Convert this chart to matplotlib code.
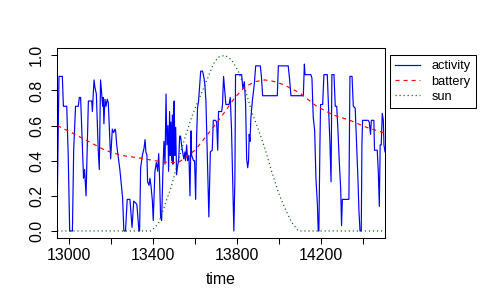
import numpy as np
import matplotlib
matplotlib.use("Agg")
import matplotlib.pyplot as plt

plt.rcParams['font.family'] = ['Liberation Sans', 'DejaVu Sans']
plt.rcParams['lines.scale_dashes'] = False

# activity series
act_t = [12943, 12951, 12967, 12972, 12988, 12995, 13002, 13015, 13021, 13030,
         13043, 13048, 13054, 13062, 13068, 13073, 13080, 13091, 13107, 13110,
         13118, 13122, 13129, 13138, 13143, 13149, 13154, 13159, 13162, 13165,
         13170, 13175, 13181, 13186, 13197, 13205, 13211, 13218, 13221, 13226,
         13241, 13254, 13260, 13268, 13276, 13289, 13299, 13307, 13316, 13322,
         13332, 13335, 13340, 13348, 13356, 13361, 13365, 13370, 13373, 13380,
         13384, 13389, 13396, 13400, 13408, 13415, 13421, 13426, 13430, 13435,
         13440, 13446, 13451, 13456, 13461, 13465, 13470, 13473, 13478, 13481,
         13484, 13488, 13491, 13494, 13497, 13500, 13503, 13507, 13511, 13516,
         13521, 13526, 13530, 13535, 13540, 13546, 13551, 13554, 13559, 13564,
         13570, 13575, 13580, 13583, 13592, 13597, 13602, 13607, 13611, 13616,
         13619, 13626, 13635, 13642, 13646, 13651, 13654, 13659, 13665, 13672,
         13681, 13686, 13697, 13702, 13707, 13711, 13726, 13730, 13735, 13742,
         13746, 13761, 13767, 13773, 13780, 13784, 13789, 13792, 13821, 13827,
         13834, 13840, 13845, 13850, 13854, 13857, 13861, 13865, 13872, 13881,
         13888, 13910, 13916, 13921, 13991, 13996, 14043, 14049, 14056, 14115,
         14120, 14123, 14151, 14156, 14162, 14169, 14175, 14182, 14186, 14189,
         14194, 14197, 14207, 14213, 14229, 14235, 14242, 14247, 14251, 14261,
         14267, 14274, 14280, 14286, 14293, 14297, 14301, 14332, 14337, 14347,
         14353, 14362, 14369, 14375, 14380, 14385, 14391, 14394, 14397, 14424,
         14429, 14435, 14439, 14451, 14454, 14467, 14472, 14477, 14481, 14486,
         14491, 14496, 14499, 14504]
act_v = [0.18, 0.88, 0.88, 0.71, 0.71, 0.43, 0.0, 0.0, 0.46, 0.71,
         0.71, 0.76, 0.76, 0.49, 0.30, 0.35, 0.20, 0.74, 0.74, 0.68,
         0.86, 0.82, 0.78, 0.46, 0.35, 0.86, 0.79, 0.71, 0.76, 0.61,
         0.75, 0.71, 0.75, 0.73, 0.41, 0.58, 0.56, 0.58, 0.57, 0.49,
         0.35, 0.19, 0.0, 0.0, 0.18, 0.18, 0.02, 0.17, 0.16, 0.15,
         0.0, 0.0, 0.36, 0.43, 0.47, 0.52, 0.45, 0.43, 0.28, 0.26,
         0.30, 0.26, 0.17, 0.06, 0.34, 0.39, 0.34, 0.44, 0.31, 0.08,
         0.06, 0.34, 0.51, 0.38, 0.78, 0.49, 0.60, 0.34, 0.68, 0.43,
         0.62, 0.40, 0.66, 0.38, 0.72, 0.74, 0.43, 0.59, 0.32, 0.37,
         0.40, 0.54, 0.54, 0.49, 0.45, 0.41, 0.45, 0.40, 0.49, 0.40,
         0.43, 0.20, 0.57, 0.43, 0.40, 0.40, 0.18, 0.55, 0.70, 0.74,
         0.79, 0.91, 0.91, 0.87, 0.83, 0.74, 0.59, 0.36, 0.08, 0.45,
         0.46, 0.63, 0.63, 0.62, 0.46, 0.68, 0.68, 0.72, 0.88, 0.78,
         0.72, 0.72, 0.76, 0.57, 0.21, 0.0, 0.30, 0.89, 0.89, 0.81,
         0.85, 0.72, 0.41, 0.36, 0.40, 0.55, 0.51, 0.64, 0.74, 0.83,
         0.94, 0.94, 0.87, 0.77, 0.77, 0.94, 0.94, 0.87, 0.77, 0.77,
         0.95, 0.89, 0.89, 0.87, 0.65, 0.57, 0.30, 0.15, 0.0, 0.0,
         0.49, 0.72, 0.72, 0.89, 0.89, 0.71, 0.49, 0.28, 0.89, 0.89,
         0.71, 0.71, 0.57, 0.40, 0.24, 0.03, 0.18, 0.18, 0.88, 0.88,
         0.71, 0.70, 0.49, 0.30, 0.11, 0.0, 0.0, 0.49, 0.63, 0.63,
         0.62, 0.55, 0.63, 0.63, 0.46, 0.46, 0.34, 0.14, 0.49, 0.49,
         0.67, 0.63, 0.49, 0.45]

# battery series
bat_t = [12943, 13011, 13091, 13170, 13249, 13337, 13408, 13472, 13519, 13551,
         13599, 13646, 13718, 13742, 13789, 13837, 13884, 13932, 13980, 14027,
         14099, 14178, 14258, 14337, 14416, 14504]
bat_v = [0.60, 0.56, 0.51, 0.46, 0.43, 0.415, 0.40, 0.39, 0.39, 0.415,
         0.46, 0.53, 0.64, 0.68, 0.76, 0.82, 0.85, 0.86, 0.85, 0.83,
         0.785, 0.71, 0.66, 0.63, 0.59, 0.557]

# sun series
sun_t = [12943, 13390, 13424, 13456, 13488, 13519, 13551, 13583, 13614, 13646,
         13686, 13710, 13742, 13773, 13805, 13837, 13869, 13900, 13932, 13964,
         13996, 14027, 14059, 14091, 14504]
sun_v = [0.0, 0.0, 0.04, 0.15, 0.26, 0.40, 0.53, 0.65, 0.74, 0.83,
         0.95, 0.99, 1.0, 0.975, 0.91, 0.81, 0.68, 0.58, 0.47, 0.34,
         0.22, 0.13, 0.05, 0.0, 0.0]

x_ticks = [13000, 13200, 13400, 13600, 13800, 14000, 14200, 14400]
x_labels = ['13000', '', '13400', '', '13800', '', '14200', '']
y_ticks = [0.0, 0.2, 0.4, 0.6, 0.8, 1.0]
y_labels = ['0.0', '0.2', '0.4', '0.6', '0.8', '1.0']

fig = plt.figure(figsize=(4.8, 3.0), dpi=100)
ax = fig.add_axes([57.3 / 480, 62 / 300, (385 - 57.3) / 480, (238 - 48.3) / 300])

ax.plot(act_t, act_v, color='blue', lw=0.85, label='activity')
ax.plot(bat_t, bat_v, color='red', lw=0.85, dashes=(2.9, 2.9), label='battery')
ax.plot(sun_t, sun_v, color='darkgreen', lw=0.9, dashes=(0.8, 2.1), label='sun')

ax.set_xlim(12943, 14504)
ax.set_ylim(-0.04, 1.04)
ax.set_xticks(x_ticks)
ax.set_xticklabels(x_labels, fontsize=11.4)
ax.set_yticks(y_ticks)
ax.set_yticklabels(y_labels, fontsize=11.4, rotation=90, va='center')
ax.tick_params(direction='out', length=4.1, width=0.75, color='black')
ax.tick_params(axis='x', pad=3)
ax.tick_params(axis='y', pad=5.5)
for s in ax.spines.values():
    s.set_linewidth(0.75)
ax.set_xlabel('time', fontsize=11.4, labelpad=6.5)

ax.legend(loc='upper left', bbox_to_anchor=(390 / 480, 1 - 55 / 300),
          bbox_transform=fig.transFigure, borderaxespad=0, fancybox=False,
          edgecolor='black', framealpha=1, fontsize=9.2, handlelength=1.9,
          handletextpad=0.9, borderpad=0.42, labelspacing=0.25)
ax.get_legend().get_frame().set_linewidth(0.75)

fig.savefig('out.png', dpi=100)
